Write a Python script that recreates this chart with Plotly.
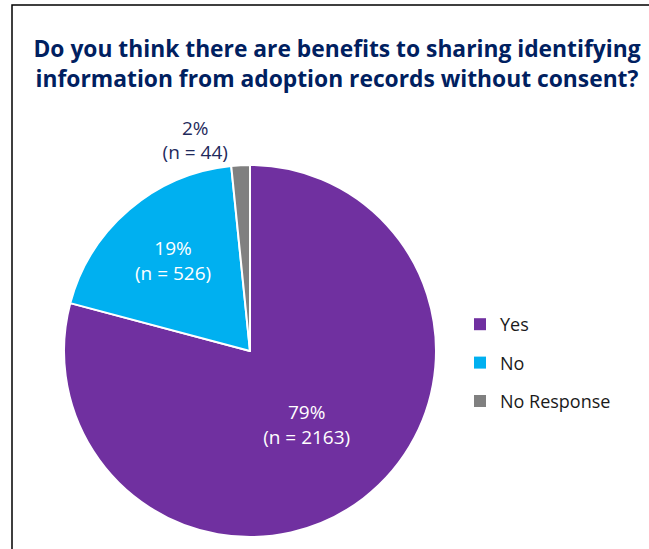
import plotly.graph_objects as go

labels = ["Yes", "No", "No Response"]
counts = [2163, 526, 44]
pct_labels = ["79%", "19%", "2%"]
colors = ["#7030A0", "#00B0F0", "#808080"]
text_colors = ["#FFFFFF", "#FFFFFF", "#1F2A5C"]
text_positions = ["inside", "inside", "outside"]
title_text = "Do you think there are benefits to sharing identifying<br>information from adoption records without consent?"

texts = [f"{p}<br>(n = {n})" for p, n in zip(pct_labels, counts)]

W, H = 649, 549
fig = go.Figure()
fig.add_trace(go.Pie(
    labels=labels,
    values=counts,
    text=texts,
    textinfo="text",
    textposition=text_positions,
    insidetextorientation="horizontal",
    textfont=dict(family="Open Sans", size=19, color=text_colors),
    marker=dict(colors=colors, line=dict(color="white", width=2)),
    sort=False,
    direction="clockwise",
    rotation=0,
    domain=dict(x=[63 / W, 437 / W], y=[12 / H, 384 / H]),
    hoverinfo="label+value",
    showlegend=False,
))

# legend entries (one per slice, separate groups for spacing)
for lab, col in zip(labels, colors):
    fig.add_trace(go.Scatter(
        x=[None], y=[None], mode="markers", name=lab,
        marker=dict(symbol="square", size=9, color=col),
        legendgroup=lab, showlegend=True, hoverinfo="skip",
    ))

fig.update_layout(
    width=W, height=H,
    margin=dict(l=0, r=0, t=0, b=0),
    paper_bgcolor="white",
    plot_bgcolor="rgba(0,0,0,0)",
    xaxis=dict(visible=False),
    yaxis=dict(visible=False),
    title=dict(
        text=f"<b>{title_text}</b>",
        x=337 / W, xanchor="center",
        y=1 - 57 / H, yanchor="middle",
        font=dict(family="Open Sans", size=22.8, color="#002060"),
    ),
    legend=dict(
        x=460 / W, y=1 - 363 / H, xanchor="left", yanchor="middle",
        font=dict(family="Open Sans", size=18, color="#1a1a1a"),
        tracegroupgap=12,
        itemsizing="constant",
        bgcolor="rgba(0,0,0,0)",
    ),
    showlegend=True,
    shapes=[dict(
        type="rect", xref="paper", yref="paper",
        x0=12 / W, x1=1.05, y0=-0.05, y1=1 - 5 / H,
        line=dict(color="black", width=1.5),
    )],
)

fig.write_html("out.html")
